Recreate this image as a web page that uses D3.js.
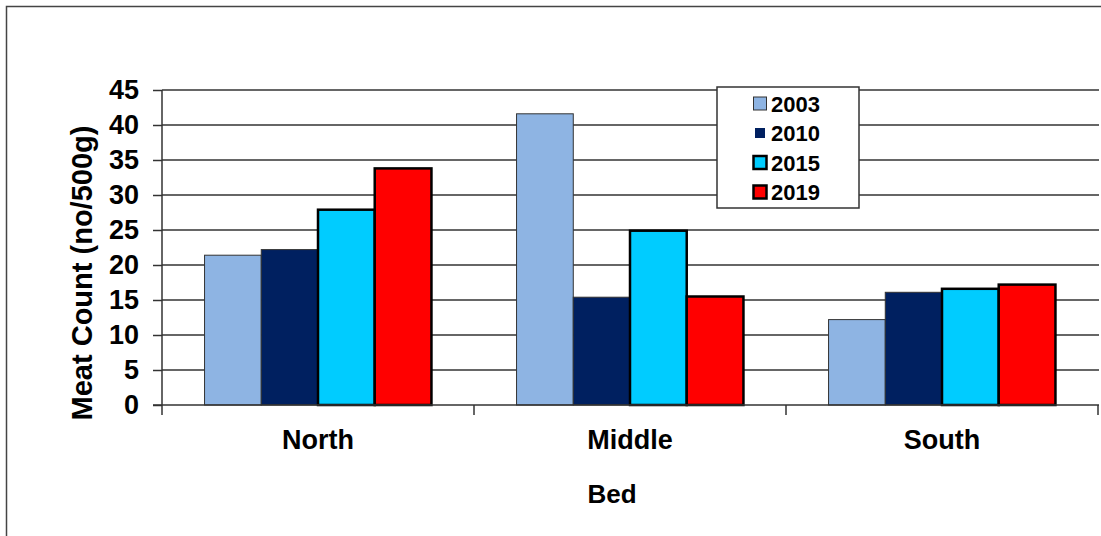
<!DOCTYPE html>
<html>
<head>
<meta charset="utf-8">
<script src="https://cdn.jsdelivr.net/npm/d3@7"></script>
<style>
  html, body { margin: 0; padding: 0; background: #fff; }
  svg { display: block; font-family: Arial, "Liberation Sans", sans-serif; font-weight: bold; }
</style>
</head>
<body>
<svg id="chart" width="1101" height="536"></svg>
<script>
// Meat count per bed, by survey year
const beds = ["North", "Middle", "South"];
const years = ["2003", "2010", "2015", "2019"];
const v2003 = [21.4, 41.6, 12.2];
const v2010 = [22.2, 15.4, 16.1];
const v2015 = [27.9, 24.9, 16.6];
const v2019 = [33.8, 15.5, 17.2];
const yTicks = [0, 5, 10, 15, 20, 25, 30, 35, 40, 45];

const seriesValues = { "2003": v2003, "2010": v2010, "2015": v2015, "2019": v2019 };
const fills = { "2003": "#8EB4E3", "2010": "#002060", "2015": "#00CCFF", "2019": "#FF0000" };
const strokes = { "2003": "#333", "2010": "#333", "2015": "#000", "2019": "#000" };
const strokeW = { "2003": 1, "2010": 1, "2015": 2.5, "2019": 2.5 };

const svg = d3.select("#chart");

// Outer chart frame
svg.append("rect")
  .attr("x", 6.5).attr("y", 6.5)
  .attr("width", 1110).attr("height", 560)
  .attr("fill", "none").attr("stroke", "#444").attr("stroke-width", 1.5);

const plot = { left: 162, right: 1098, top: 90, bottom: 405 };

const y = d3.scaleLinear().domain([0, 45]).range([plot.bottom, plot.top]);
const x = d3.scaleBand().domain(beds).range([plot.left, plot.right]).padding(0);
const xs = d3.scaleBand().domain(years).range([0, x.bandwidth()])
  .paddingInner(0).paddingOuter(0.75);

// Horizontal gridlines
svg.append("g").selectAll("line")
  .data(yTicks.filter(t => t > 0))
  .join("line")
  .attr("x1", plot.left).attr("x2", plot.right + 1)
  .attr("y1", d => y(d)).attr("y2", d => y(d))
  .attr("stroke", "#333").attr("stroke-width", 1.5);

// Y axis
const yAxis = d3.axisLeft(y).tickValues(yTicks).tickSize(9).tickPadding(14);
const gy = svg.append("g").attr("transform", `translate(${plot.left},0)`).call(yAxis);
gy.select(".domain").remove();
gy.selectAll(".tick line").attr("stroke", "#333").attr("stroke-width", 1.5);
gy.selectAll(".tick text")
  .attr("fill", "#000").attr("font-size", 27).attr("font-weight", "bold")
  .attr("font-family", "Arial, 'Liberation Sans', sans-serif");
svg.append("line")
  .attr("x1", plot.left).attr("x2", plot.left)
  .attr("y1", plot.top).attr("y2", plot.bottom + 10)
  .attr("stroke", "#333").attr("stroke-width", 1.5);

// Bars
const groups = svg.append("g").selectAll("g")
  .data(beds)
  .join("g")
  .attr("transform", d => `translate(${x(d)},0)`);

groups.selectAll("rect")
  .data((bed, i) => years.map(yr => ({ yr, v: seriesValues[yr][i] })))
  .join("rect")
  .attr("x", d => xs(d.yr))
  .attr("width", xs.bandwidth())
  .attr("y", d => y(d.v))
  .attr("height", d => y(0) - y(d.v))
  .attr("fill", d => fills[d.yr])
  .attr("stroke", d => strokes[d.yr])
  .attr("stroke-width", d => strokeW[d.yr]);

// X axis line and category separators
svg.append("line")
  .attr("x1", plot.left - 9).attr("x2", plot.right + 1)
  .attr("y1", plot.bottom).attr("y2", plot.bottom)
  .attr("stroke", "#333").attr("stroke-width", 1.5);
const sepPositions = beds.map(b => x(b) + x.bandwidth());
svg.append("g").selectAll("line")
  .data(sepPositions)
  .join("line")
  .attr("x1", d => d).attr("x2", d => d)
  .attr("y1", plot.bottom).attr("y2", plot.bottom + 10)
  .attr("stroke", "#333").attr("stroke-width", 1.5);

// Category labels
svg.append("g").selectAll("text")
  .data(beds)
  .join("text")
  .attr("x", d => x(d) + x.bandwidth() / 2)
  .attr("y", 449)
  .attr("text-anchor", "middle")
  .attr("font-size", 27)
  .text(d => d);

// Axis titles
svg.append("text")
  .attr("x", 612).attr("y", 503)
  .attr("text-anchor", "middle")
  .attr("font-size", 26)
  .text("Bed");

svg.append("text")
  .attr("transform", "translate(92,273) rotate(-90)")
  .attr("text-anchor", "middle")
  .attr("font-size", 29)
  .text("Meat Count (no/500g)");

// Legend
const legend = svg.append("g").attr("transform", "translate(717,87)");
legend.append("rect")
  .attr("width", 142).attr("height", 121)
  .attr("fill", "#fff").attr("stroke", "#333").attr("stroke-width", 1.5);
const rows = legend.selectAll("g.row")
  .data(years)
  .join("g")
  .attr("class", "row")
  .attr("transform", (d, i) => `translate(0,${16.5 + i * 29.5})`);
rows.append("rect")
  .attr("x", d => d === "2010" ? 38 : 36.5)
  .attr("y", d => d === "2010" ? -5 : -6.5)
  .attr("width", d => d === "2010" ? 10 : 13)
  .attr("height", d => d === "2010" ? 10 : 13)
  .attr("fill", d => fills[d])
  .attr("stroke", d => d === "2010" ? "none" : strokes[d])
  .attr("stroke-width", d => strokeW[d]);
rows.append("text")
  .attr("x", 54).attr("y", 8)
  .attr("font-size", 22)
  .text(d => d);
</script>
</body>
</html>
